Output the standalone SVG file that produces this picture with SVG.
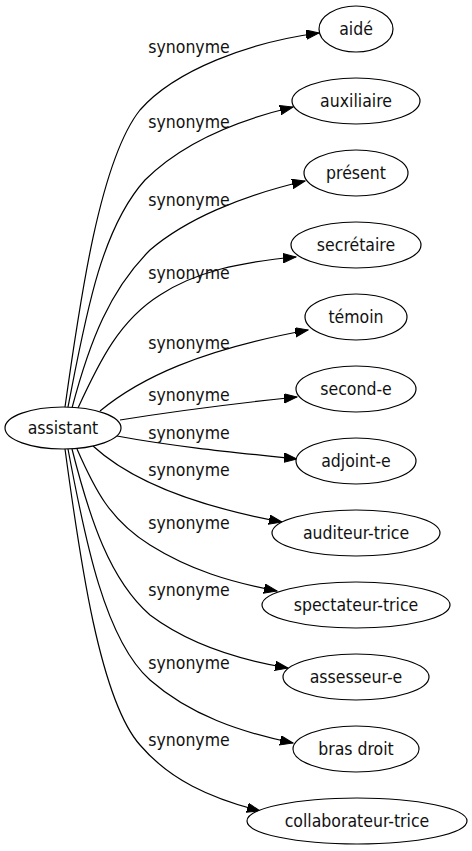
<svg xmlns="http://www.w3.org/2000/svg" width="472" height="851" viewBox="0 0 472 851">
<style>
.n ellipse{fill:#fff;stroke:#000;stroke-width:1.2}
text{font-family:"DejaVu Sans Condensed","DejaVu Sans",sans-serif;font-size:17.5px;fill:#111;text-anchor:middle}
.e path{fill:none;stroke:#000;stroke-width:1.2;marker-end:url(#ah)}
</style>
<defs>
<marker id="ah" markerUnits="userSpaceOnUse" markerWidth="14" markerHeight="10" refX="13" refY="4.7" orient="auto">
<path d="M0,0 L13,4.7 L0,9.4 z" fill="#000" stroke="#000" stroke-width="1"/>
</marker>
</defs>
<rect width="472" height="851" fill="#fff"/>
<g id="edges" class="e">
<path d="M65,407 C80,300 100,160 140,110 C175,70 250,42 319,33"/>
<path d="M68,407 C85,320 100,230 145,180 C180,145 230,122 293,107"/>
<path d="M72,408 C90,340 110,290 150,250 C185,220 240,196 305,181"/>
<path d="M78,408 C100,360 120,320 160,295 C195,272 240,262 296,257"/>
<path d="M100,411 C140,378 200,350 308,330"/>
<path d="M120,420 C170,412 230,404 297,397"/>
<path d="M117,436 C170,446 230,452 297,459"/>
<path d="M93,446 C130,480 190,505 282,522"/>
<path d="M77,449 C95,490 110,520 150,545 C190,570 230,582 277,591"/>
<path d="M72,449 C90,520 110,580 150,615 C190,645 240,660 288,668"/>
<path d="M68,449 C85,540 105,640 150,680 C190,715 240,732 293,743"/>
<path d="M65,449 C80,560 100,700 140,745 C170,780 210,798 260,811"/>
</g>
<g id="edge-labels">
<text x="189" y="53">synonyme</text>
<text x="189" y="128">synonyme</text>
<text x="189" y="206">synonyme</text>
<text x="189" y="279">synonyme</text>
<text x="189" y="349">synonyme</text>
<text x="189" y="401">synonyme</text>
<text x="189" y="439">synonyme</text>
<text x="189" y="476">synonyme</text>
<text x="189" y="529">synonyme</text>
<text x="189" y="596">synonyme</text>
<text x="189" y="669">synonyme</text>
<text x="189" y="746">synonyme</text>
</g>
<g id="assistant" class="n"><ellipse cx="63" cy="428" rx="58" ry="21"/><text x="63" y="434">assistant</text></g>
<g id="aide" class="n"><ellipse cx="356" cy="29" rx="37" ry="23"/><text x="356" y="35">aidé</text></g>
<g id="auxiliaire" class="n"><ellipse cx="356" cy="101" rx="64" ry="23"/><text x="356" y="107">auxiliaire</text></g>
<g id="present" class="n"><ellipse cx="356" cy="173" rx="52" ry="23"/><text x="356" y="179">présent</text></g>
<g id="secretaire" class="n"><ellipse cx="356" cy="245" rx="65" ry="23"/><text x="356" y="251">secrétaire</text></g>
<g id="temoin" class="n"><ellipse cx="356" cy="317" rx="51" ry="23"/><text x="356" y="323">témoin</text></g>
<g id="second-e" class="n"><ellipse cx="356" cy="389" rx="60" ry="23"/><text x="356" y="395">second-e</text></g>
<g id="adjoint-e" class="n"><ellipse cx="356" cy="461" rx="60" ry="23"/><text x="356" y="467">adjoint-e</text></g>
<g id="auditeur-trice" class="n"><ellipse cx="356" cy="533" rx="84" ry="23"/><text x="356" y="539">auditeur-trice</text></g>
<g id="spectateur-trice" class="n"><ellipse cx="356" cy="605" rx="94" ry="23"/><text x="356" y="611">spectateur-trice</text></g>
<g id="assesseur-e" class="n"><ellipse cx="356" cy="677" rx="73" ry="23"/><text x="356" y="683">assesseur-e</text></g>
<g id="bras-droit" class="n"><ellipse cx="356" cy="749" rx="63" ry="23"/><text x="356" y="755">bras droit</text></g>
<g id="collaborateur-trice" class="n"><ellipse cx="357" cy="821" rx="110" ry="23"/><text x="357" y="827">collaborateur-trice</text></g>
</svg>
